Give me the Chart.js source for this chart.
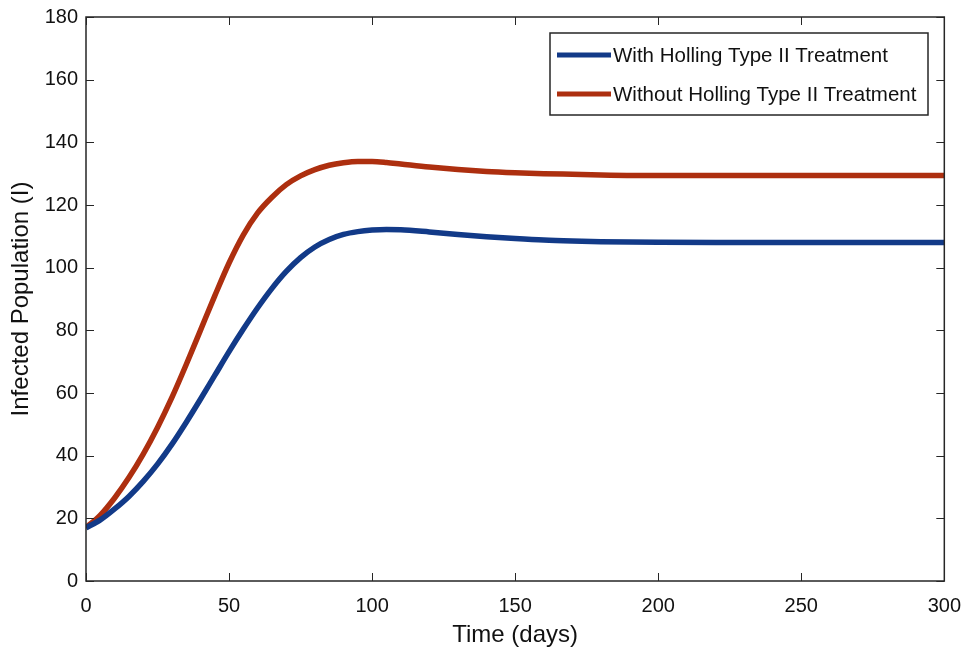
<!DOCTYPE html>
<html>
<head>
<meta charset="utf-8">
<title>Infected Population</title>
<script src="https://cdn.jsdelivr.net/npm/chart.js@4.4.1/dist/chart.umd.min.js"></script>
<style>
  html, body { margin: 0; padding: 0; background: #fff; }
  #wrap { width: 966px; height: 655px; }
</style>
</head>
<body>
<div id="wrap"><canvas id="myChartInfected" width="966" height="655"></canvas></div>
<script>
// tiempo en dias
const days = [0, 5, 10, 15, 20, 25, 30, 35, 40, 45, 50, 55, 60, 65, 70, 75, 80, 85, 90, 95, 100, 105, 110,
  120, 130, 140, 150, 160, 170, 180, 200, 220, 250, 300];

// poblacion infectada con tratamiento Holling tipo II
const withHolling = [17, 19.5, 23, 27, 31.8, 37.3, 43.6, 50.6, 58, 65.6, 73.2, 80.4, 87.2, 93.4, 98.8, 103.2, 106.6, 109, 110.6, 111.5, 112, 112.2, 112.1,
  111.4, 110.6, 109.9, 109.3, 108.8, 108.5, 108.3, 108.1, 108, 108, 108];

// sin tratamiento
const withoutHolling = [17, 21, 26.5, 33, 40.5, 49, 58.5, 69, 80, 91, 101.5, 110.5, 117.5, 122.5, 126.5, 129.3, 131.3, 132.7, 133.5, 133.9, 133.9, 133.6, 133.1,
  132.1, 131.3, 130.7, 130.3, 130, 129.8, 129.6, 129.4, 129.4, 129.4, 129.4];

const xTicks = [0, 50, 100, 150, 200, 250, 300];
const yTicks = [0, 20, 40, 60, 80, 100, 120, 140, 160, 180];

const blueLine = '#123a88';
const redLine = '#ad2f0f';
const axisColor = '#262626';
const fontName = "'Liberation Sans', Arial, sans-serif";

function toPoints(values) {
  return days.map((d, i) => ({ x: d, y: values[i] }));
}

// fondo blanco
const whiteBg = {
  id: 'whiteBg',
  beforeDraw(chart) {
    const c = chart.ctx;
    c.save();
    c.fillStyle = '#fff';
    c.fillRect(0, 0, chart.width, chart.height);
    c.restore();
  }
};

// caja de ejes con marcas hacia dentro (estilo matlab)
const boxAxes = {
  id: 'boxAxes',
  afterDatasetsDraw(chart) {
    const c = chart.ctx;
    const a = chart.chartArea;
    const sx = chart.scales.x;
    const sy = chart.scales.y;
    const len = 8;
    c.save();
    c.strokeStyle = axisColor;
    c.lineWidth = 1.5;
    c.strokeRect(a.left, a.top, a.right - a.left, a.bottom - a.top);
    c.beginPath();
    xTicks.forEach(v => {
      const px = Math.round(sx.getPixelForValue(v)) + 0.5;
      c.moveTo(px, a.bottom); c.lineTo(px, a.bottom - len);
      c.moveTo(px, a.top); c.lineTo(px, a.top + len);
    });
    yTicks.forEach(v => {
      const py = Math.round(sy.getPixelForValue(v)) + 0.5;
      c.moveTo(a.left, py); c.lineTo(a.left + len, py);
      c.moveTo(a.right, py); c.lineTo(a.right - len, py);
    });
    c.lineWidth = 1;
    c.stroke();
    c.restore();
  }
};

// leyenda dentro del area del grafico
const boxLegend = {
  id: 'boxLegend',
  afterDraw(chart) {
    const c = chart.ctx;
    const x0 = 550, y0 = 33, w = 378, h = 82;
    c.save();
    c.fillStyle = '#fff';
    c.fillRect(x0, y0, w, h);
    c.strokeStyle = axisColor;
    c.lineWidth = 1.5;
    c.strokeRect(x0, y0, w, h);
    c.font = '20.5px ' + fontName;
    c.textBaseline = 'middle';
    chart.data.datasets.forEach((ds, i) => {
      const yy = y0 + 22 + i * 39;
      c.strokeStyle = ds.borderColor;
      c.lineWidth = 5;
      c.beginPath();
      c.moveTo(x0 + 7, yy);
      c.lineTo(x0 + 61, yy);
      c.stroke();
      c.fillStyle = '#111';
      c.fillText(ds.label, x0 + 63, yy + 1);
    });
    c.restore();
  }
};

const ctx = document.getElementById('myChartInfected');

const myChartInfected = new Chart(ctx, {
  type: 'line',
  data: {
    datasets: [{
      label: 'With Holling Type II Treatment',
      data: toPoints(withHolling),
      borderColor: blueLine,
      borderWidth: 5.5,
      pointRadius: 0,
      cubicInterpolationMode: 'monotone',
      fill: false
    }, {
      label: 'Without Holling Type II Treatment',
      data: toPoints(withoutHolling),
      borderColor: redLine,
      borderWidth: 5.5,
      pointRadius: 0,
      cubicInterpolationMode: 'monotone',
      fill: false
    }]
  },
  options: {
    responsive: false,
    animation: false,
    layout: { padding: { top: 17, right: 20, left: 0, bottom: 0 } },
    plugins: {
      legend: { display: false },
      tooltip: { enabled: false }
    },
    scales: {
      x: {
        type: 'linear',
        min: 0,
        max: 300,
        afterFit: s => { s.height = 74; },
        afterBuildTicks: s => { s.ticks = xTicks.map(v => ({ value: v })); },
        grid: { display: false },
        border: { display: false },
        ticks: {
          color: '#111',
          padding: 5,
          maxRotation: 0,
          font: { family: fontName, size: 20 }
        },
        title: {
          display: true,
          text: 'Time (days)',
          color: '#111',
          padding: { top: 0, bottom: 5 },
          font: { family: fontName, size: 24 }
        }
      },
      y: {
        type: 'linear',
        min: 0,
        max: 180,
        afterFit: s => { s.width = 86; },
        afterBuildTicks: s => { s.ticks = yTicks.map(v => ({ value: v })); },
        grid: { display: false },
        border: { display: false },
        ticks: {
          color: '#111',
          padding: 0,
          font: { family: fontName, size: 20 }
        },
        title: {
          display: true,
          text: 'Infected Population (I)',
          color: '#111',
          padding: { top: 7, bottom: 0 },
          font: { family: fontName, size: 24 }
        }
      }
    }
  },
  plugins: [whiteBg, boxAxes, boxLegend]
});
</script>
</body>
</html>
